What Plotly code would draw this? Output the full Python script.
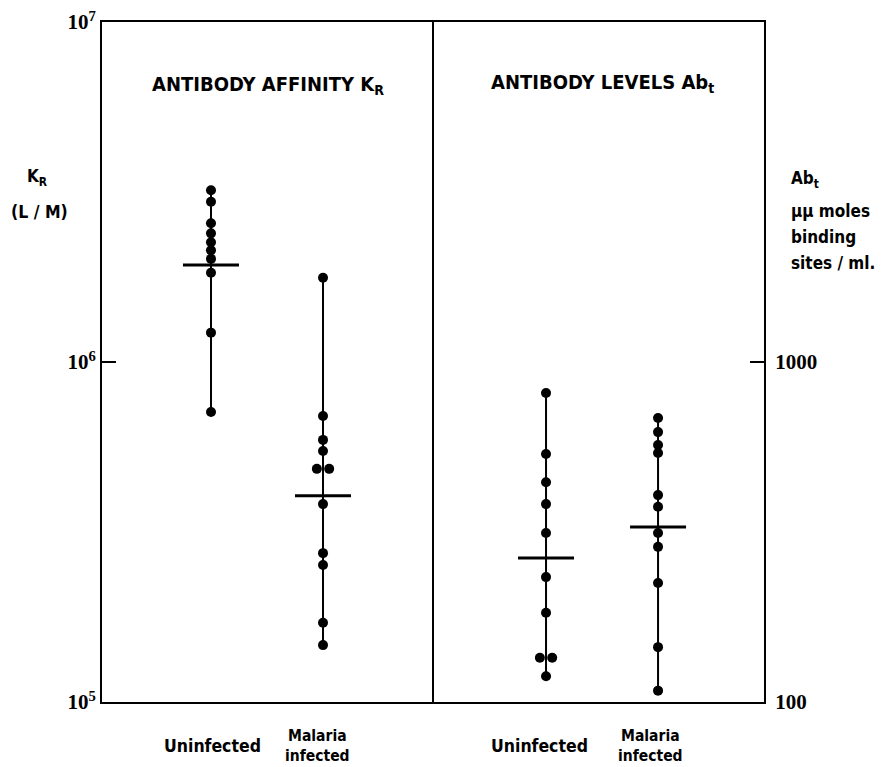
import plotly.graph_objects as go
from collections import Counter

# ---------------- data ----------------
groups = ["Uninfected", "Malaria<br>infected"]
group_pos = [1, 2]

affinity_uninfected = [3.2e6, 2.96e6, 2.56e6, 2.39e6, 2.25e6, 2.13e6, 2.01e6, 1.83e6, 1.22e6, 7.13e5]
affinity_malaria = [1.77e6, 6.94e5, 5.90e5, 5.47e5, 4.85e5, 4.85e5, 3.82e5, 2.74e5, 2.53e5, 1.71e5, 1.47e5]
affinity_means = [1.93e6, 4.04e5]

levels_uninfected = [811, 536, 443, 382, 314, 233, 183, 135, 135, 119]
levels_malaria = [684, 622, 570, 540, 406, 375, 314, 286, 224, 145, 108]
levels_means = [265, 327]

affinity_tickvals = [1e5, 1e6, 1e7]
affinity_ticktext = ["10<sup>5</sup>", "10<sup>6</sup>", "10<sup>7</sup>"]
levels_tickvals = [100, 1000]
levels_ticktext = ["100", "1000"]

panel_titles = ["ANTIBODY AFFINITY K<sub>R</sub>", "ANTIBODY LEVELS Ab<sub>t</sub>"]
left_title = ["K<sub>R</sub>", "(L / M)"]
right_title = ["Ab<sub>t</sub>", "\u00b5\u00b5 moles", "binding", "sites / ml."]

# ---------------- figure ----------------
FONT = "Liberation Sans Narrow, DejaVu Sans Condensed, Roboto Condensed, Arial Narrow, Roboto, sans-serif"
SERIF = "Liberation Serif, DejaVu Serif, serif"
PAGE = 8  # default body margin of the html page
W, H = 885 - PAGE, 767 - PAGE
L, R, T, B = 94, 121, 14, 65
PW, PH = W - L - R, H - T - B
X0, Y1 = PAGE + L, PAGE + T + PH  # screen pixels of plot-area left / bottom


def px(xp):
    return (xp - X0) / PW


def py(yp):
    return (Y1 - yp) / PH


def jitter(vals, step=0.055):
    cnt = Counter(vals)
    seen = Counter()
    offs = []
    for v in vals:
        n = cnt[v]
        k = seen[v]
        seen[v] += 1
        offs.append((k - (n - 1) / 2) * 2 * step if n > 1 else 0.0)
    return offs


fig = go.Figure()

panels = [
    ("x", "y", [affinity_uninfected, affinity_malaria], affinity_means),
    ("x2", "y2", [levels_uninfected, levels_malaria], levels_means),
]

for xa, ya, series, means in panels:
    for pos, vals, m in zip(group_pos, series, means):
        fig.add_trace(go.Scatter(
            x=[pos, pos], y=[min(vals), max(vals)], mode="lines",
            line=dict(color="black", width=2), xaxis=xa, yaxis=ya,
            showlegend=False, hoverinfo="skip"))
        offs = jitter(vals)
        fig.add_trace(go.Scatter(
            x=[pos + o for o in offs], y=vals, mode="markers",
            marker=dict(color="black", size=10), xaxis=xa, yaxis=ya,
            showlegend=False))
        fig.add_trace(go.Scatter(
            x=[pos - 0.25, pos + 0.25], y=[m, m], mode="lines",
            line=dict(color="black", width=3), xaxis=xa, yaxis=ya,
            showlegend=False, hoverinfo="skip"))

split = px(432)
axis_common = dict(showgrid=False, zeroline=False, showline=True,
                   linecolor="black", linewidth=2, automargin=False)

fig.update_layout(
    width=W, height=H,
    margin=dict(l=L, r=R, t=T, b=B, autoexpand=False),
    paper_bgcolor="white", plot_bgcolor="white",
    font=dict(family=FONT, color="black", size=16),
    showlegend=False,
    xaxis=dict(domain=[0, split], range=[0.027, 2.973], mirror=True,
               showticklabels=False, ticks="", **axis_common),
    yaxis=dict(type="log", range=[5, 7], anchor="x", mirror=True,
               ticks="inside", ticklen=14, tickwidth=1.5, tickcolor="black",
               tickvals=affinity_tickvals, ticktext=affinity_ticktext,
               ticklabeloverflow="allow",
               tickfont=dict(family=SERIF, size=21, weight="bold", color="black"),
               **axis_common),
    xaxis2=dict(domain=[split, 1], range=[-0.018, 2.946], mirror=True,
                showticklabels=False, ticks="", anchor="y2", **axis_common),
    yaxis2=dict(type="log", range=[2, 4], anchor="x2", side="right",
                ticks="inside", ticklen=14, tickwidth=1.5, tickcolor="black",
                tickvals=levels_tickvals, ticktext=levels_ticktext,
                ticklabeloverflow="allow", ticklabelstandoff=5,
                tickfont=dict(family=SERIF, size=21, weight="bold", color="black"),
                **axis_common),
)

bold = dict(family=FONT, size=17, weight="bold")
label_shift = {"x": [2, -6], "x2": [-7, -8]}
label_size = [17.5, 15.5]
ann = []
# group labels under each panel
for xa in ["x", "x2"]:
    for i, (pos, g) in enumerate(zip(group_pos, groups)):
        ann.append(dict(x=pos, xref=xa, y=py(746), yref="paper", text=g,
                        showarrow=False, xanchor="center", yanchor="middle",
                        xshift=label_shift[xa][i],
                        font=dict(family=FONT, size=label_size[i], weight="bold")))
# panel titles
ann.append(dict(x=px(268), y=py(85), xref="paper", yref="paper", text=panel_titles[0],
                showarrow=False, xanchor="center", yanchor="middle",
                font=dict(family=FONT, size=20, weight="bold")))
ann.append(dict(x=px(602), y=py(83), xref="paper", yref="paper", text=panel_titles[1],
                showarrow=False, xanchor="center", yanchor="middle",
                font=dict(family=FONT, size=20, weight="bold")))
# left axis title
ann.append(dict(x=px(37), y=py(178), xref="paper", yref="paper", text=left_title[0],
                showarrow=False, xanchor="center", yanchor="middle", font=bold))
ann.append(dict(x=px(39), y=py(212), xref="paper", yref="paper", text=left_title[1],
                showarrow=False, xanchor="center", yanchor="middle",
                font=dict(family=FONT, size=17.5, weight="bold")))
# right axis title
for txt, yp in zip(right_title, [180, 211, 237, 263]):
    ann.append(dict(x=px(789), y=py(yp), xref="paper", yref="paper", text=txt,
                    showarrow=False, xanchor="left", yanchor="middle", font=bold))

fig.update_layout(annotations=ann)
fig.write_html("out.html")
